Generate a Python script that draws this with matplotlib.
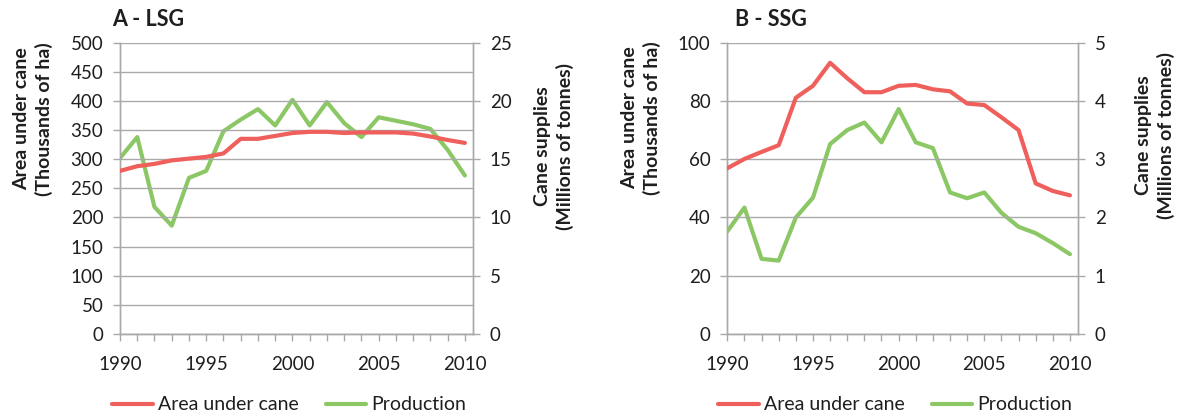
import matplotlib
matplotlib.use("Agg")
import matplotlib.pyplot as plt
from matplotlib.lines import Line2D

plt.rcParams['font.family'] = ['Lato', 'DejaVu Sans']

years = list(range(1990, 2011))

# Panel A - LSG
lsg_area = [280, 288, 292, 298, 301, 304, 310, 335, 335, 340, 345, 347,
            347, 345, 346, 346, 346, 344, 339, 333, 328]
lsg_prod = [15.1, 16.9, 10.9, 9.3, 13.4, 14.0, 17.4, 18.4, 19.3, 17.9, 20.1,
            17.9, 19.9, 18.1, 16.9, 18.6, 18.3, 18.0, 17.6, 15.8, 13.6]

# Panel B - SSG
ssg_area = [56.9, 60.1, 62.5, 64.8, 81.1, 85.2, 93.1, 87.8, 83.0, 83.0, 85.2,
            85.5, 84.0, 83.3, 79.1, 78.6, 74.4, 70.0, 51.7, 49.1, 47.6]
ssg_prod = [1.76, 2.17, 1.29, 1.26, 2.00, 2.34, 3.26, 3.50, 3.63, 3.29, 3.86,
            3.29, 3.19, 2.43, 2.33, 2.43, 2.08, 1.84, 1.73, 1.56, 1.37]

titles = ["A - LSG", "B - SSG"]
left_label = "Area under cane\n(Thousands of ha)"
right_label = "Cane supplies\n(Millions of tonnes)"
legend_labels = ["Area under cane", "Production"]

RED = '#EF5F5B'
GREEN = '#8CC765'
GRID = '#A9A9A9'
TEXT = '#1E1E1E'
FS = 13.5
LFS = 14

W, H = 1179, 418
fig = plt.figure(figsize=(W / 100, H / 100), dpi=100)


def fx(px):
    return px / W


def fy(py):
    return 1 - py / H


def panel(left_px, right_px, area, prod, lmax, lstep, rmax, rstep):
    top_px, bot_px = 42.7, 334
    ax = fig.add_axes([fx(left_px), fy(bot_px), fx(right_px - left_px),
                       (bot_px - top_px) / H])
    ax2 = ax.twinx()
    ax.plot(years, area, color=RED, lw=3, solid_capstyle='round',
            solid_joinstyle='round', zorder=3)
    ax2.plot(years, prod, color=GREEN, lw=3, solid_capstyle='round',
             solid_joinstyle='round', zorder=3)
    ax.set_zorder(ax2.get_zorder() + 1)
    ax.patch.set_visible(False)

    ax.set_xlim(1990, 2010.47)
    ax.set_ylim(0, lmax)
    ax2.set_ylim(0, rmax)
    ax.set_yticks([lstep * i for i in range(int(round(lmax / lstep)) + 1)])
    ax2.set_yticks([rstep * i for i in range(int(round(rmax / rstep)) + 1)])
    ax.set_xticks(years)
    ax.set_xticklabels([str(y) if y % 5 == 0 else '' for y in years])

    ax.grid(axis='y', color=GRID, lw=1.0, zorder=0)
    for a in (ax, ax2):
        for s in a.spines.values():
            s.set_color(GRID)
            s.set_linewidth(1.0)
        a.spines['top'].set_visible(False)
    ax.tick_params(axis='y', length=5, width=1.0, color=GRID, pad=7,
                   labelsize=FS, labelcolor=TEXT)
    ax2.tick_params(axis='y', length=5, width=1.0, color=GRID, pad=7,
                    labelsize=FS, labelcolor=TEXT)
    ax.tick_params(axis='x', length=5, width=1.0, color=GRID, pad=11,
                   labelsize=FS, labelcolor=TEXT)

    handles = [Line2D([], [], color=RED, lw=3, solid_capstyle='round'),
               Line2D([], [], color=GREEN, lw=3, solid_capstyle='round')]
    return ax, handles


axA, hA = panel(120, 473, lsg_area, lsg_prod, 500, 50, 25, 5)
axB, hB = panel(727.3, 1078, ssg_area, ssg_prod, 100, 20, 5, 1)

# titles
fig.text(fx(112), fy(20), titles[0], fontsize=15.5, fontweight='bold',
         color=TEXT, ha='left', va='center')
fig.text(fx(735), fy(20), titles[1], fontsize=15.5, fontweight='bold',
         color=TEXT, ha='left', va='center')

# axis titles
for xpx, ypx, txt in [(33, 119, left_label), (641, 118, left_label),
                      (554, 146, right_label), (1155, 135, right_label)]:
    fig.text(fx(xpx), fy(ypx), txt, rotation=90, fontsize=LFS,
             fontweight='bold', color=TEXT, ha='center', va='center',
             multialignment='center', linespacing=1.3)

# legends
for ax, handles, cx in [(axA, hA, 289), (axB, hB, 895)]:
    fig.legend(handles, legend_labels, loc='center', ncol=2,
               bbox_to_anchor=(fx(cx), fy(405)), frameon=False,
               fontsize=LFS, handlelength=2.1, handletextpad=0.25,
               columnspacing=1.4, labelcolor=TEXT)

fig.savefig('out.png', dpi=100)
